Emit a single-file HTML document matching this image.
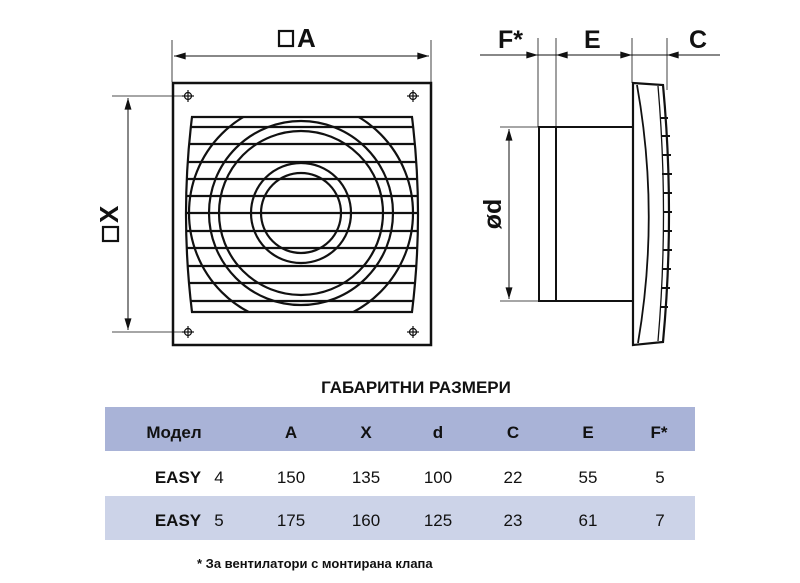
<!DOCTYPE html>
<html><head><meta charset="utf-8"><style>
html,body{margin:0;padding:0;background:#fff;}
svg{display:block;}
text{font-family:"Liberation Sans","DejaVu Sans",sans-serif;}
</style></head><body>
<svg width="800" height="583" viewBox="0 0 800 583" xmlns="http://www.w3.org/2000/svg">
<defs>
<marker id="ar" viewBox="0 0 10 6" refX="10" refY="3" markerWidth="18" markerHeight="7" markerUnits="userSpaceOnUse" orient="auto"><path d="M0,0 L10,3 L0,6 z" fill="#111"/></marker>
<clipPath id="gc"><path d="M192,117 Q180,214 192,312 L412,312 Q424,214 412,117 Z"/></clipPath>
</defs>
<g stroke="#111" fill="none">
<rect x="173" y="83" width="258" height="262" stroke-width="2.5"/>
<line x1="172" y1="40" x2="172" y2="82" stroke-width="0.8"/>
<line x1="431" y1="40" x2="431" y2="82" stroke-width="0.8"/>
<line x1="174" y1="56" x2="429" y2="56" stroke-width="1" marker-end="url(#ar)"/>
<line x1="429" y1="56" x2="174" y2="56" stroke-width="1" marker-end="url(#ar)"/>
<line x1="112" y1="96" x2="186" y2="96" stroke-width="0.8"/>
<line x1="112" y1="332" x2="186" y2="332" stroke-width="0.8"/>
<line x1="128" y1="98" x2="128" y2="330" stroke-width="1" marker-end="url(#ar)"/>
<line x1="128" y1="330" x2="128" y2="98" stroke-width="1" marker-end="url(#ar)"/>
<g stroke-width="1.2">
<circle cx="188" cy="96" r="3.5"/><line x1="188" y1="90" x2="188" y2="102"/><line x1="182" y1="96" x2="194" y2="96"/>
<circle cx="413" cy="96" r="3.5"/><line x1="413" y1="90" x2="413" y2="102"/><line x1="407" y1="96" x2="419" y2="96"/>
<circle cx="188" cy="332" r="3.5"/><line x1="188" y1="326" x2="188" y2="338"/><line x1="182" y1="332" x2="194" y2="332"/>
<circle cx="413" cy="332" r="3.5"/><line x1="413" y1="326" x2="413" y2="338"/><line x1="407" y1="332" x2="419" y2="332"/>
</g>
<path d="M192,117 Q180,214 192,312 L412,312 Q424,214 412,117 Z" stroke-width="2.2"/>
<g clip-path="url(#gc)" stroke-width="2.2">
<circle cx="301" cy="213" r="112"/>
<circle cx="301" cy="213" r="92"/>
<circle cx="301" cy="213" r="82"/>
<circle cx="301" cy="213" r="50"/>
<circle cx="301" cy="213" r="40"/>
<line x1="170" y1="127" x2="430" y2="127"/>
<line x1="170" y1="144" x2="430" y2="144"/>
<line x1="170" y1="162" x2="430" y2="162"/>
<line x1="170" y1="179" x2="430" y2="179"/>
<line x1="170" y1="196" x2="430" y2="196"/>
<line x1="170" y1="213" x2="430" y2="213"/>
<line x1="170" y1="231" x2="430" y2="231"/>
<line x1="170" y1="248" x2="430" y2="248"/>
<line x1="170" y1="266" x2="430" y2="266"/>
<line x1="170" y1="283" x2="430" y2="283"/>
<line x1="170" y1="301" x2="430" y2="301"/>
</g>
<line x1="480" y1="55" x2="720" y2="55" stroke-width="1"/>
<line x1="538" y1="38" x2="538" y2="127" stroke-width="0.8"/>
<line x1="556" y1="38" x2="556" y2="127" stroke-width="0.8"/>
<line x1="632" y1="38" x2="632" y2="83" stroke-width="0.8"/>
<line x1="667" y1="38" x2="667" y2="90" stroke-width="0.8"/>
<line x1="515" y1="55" x2="538" y2="55" stroke-width="1" marker-end="url(#ar)"/>
<line x1="579" y1="55" x2="556" y2="55" stroke-width="1" marker-end="url(#ar)"/>
<line x1="610" y1="55" x2="632" y2="55" stroke-width="1" marker-end="url(#ar)"/>
<line x1="690" y1="55" x2="667" y2="55" stroke-width="1" marker-end="url(#ar)"/>
<line x1="500" y1="127" x2="538" y2="127" stroke-width="0.8"/>
<line x1="500" y1="301" x2="538" y2="301" stroke-width="0.8"/>
<line x1="509" y1="129" x2="509" y2="299" stroke-width="1" marker-end="url(#ar)"/>
<line x1="509" y1="299" x2="509" y2="129" stroke-width="1" marker-end="url(#ar)"/>
<rect x="539" y="127" width="94" height="174" stroke-width="2"/>
<line x1="556" y1="127" x2="556" y2="301" stroke-width="2"/>
<path d="M633,83 L663,85 Q675,214 663,342 L633,345 Z" stroke-width="2.2" fill="#fff"/>
<path d="M637,85 Q660,214 638,343" stroke-width="1.8"/>
<path d="M658,86 Q669,214 658,341" stroke-width="1.3"/>
<g stroke-width="2">
<line x1="660" y1="118" x2="668" y2="118"/><line x1="661" y1="136" x2="670" y2="136"/>
<line x1="662" y1="155" x2="671" y2="155"/><line x1="662" y1="174" x2="672" y2="174"/>
<line x1="663" y1="193" x2="672" y2="193"/><line x1="663" y1="212" x2="672" y2="212"/>
<line x1="663" y1="231" x2="672" y2="231"/><line x1="663" y1="250" x2="672" y2="250"/>
<line x1="662" y1="269" x2="671" y2="269"/><line x1="662" y1="288" x2="670" y2="288"/>
<line x1="661" y1="307" x2="668" y2="307"/>
</g>
</g>
<g fill="#111" font-weight="bold">
<rect x="279" y="31" width="14" height="15" fill="none" stroke="#111" stroke-width="2.2"/>
<text x="297" y="47" font-size="26">A</text>
<g transform="translate(117,215) rotate(-90)">
<rect x="-26" y="-14" width="14" height="15" fill="none" stroke="#111" stroke-width="2.2"/>
<text x="-8" y="1" font-size="26">X</text>
</g>
<text x="498" y="48" font-size="25">F*</text>
<text x="584" y="48" font-size="25">E</text>
<text x="689" y="48" font-size="25">C</text>
<text transform="translate(501,214) rotate(-90)" font-size="25" text-anchor="middle">ød</text>
</g>
<text x="416" y="393" font-size="17" font-weight="bold" text-anchor="middle" fill="#111">ГАБАРИТНИ РАЗМЕРИ</text>
<rect x="105" y="407" width="590" height="44" fill="#a9b3d7"/>
<rect x="105" y="496" width="590" height="44" fill="#ccd3e8"/>
<g font-size="17" fill="#111" text-anchor="middle">
<g font-weight="bold">
<text x="174" y="438">Модел</text>
<text x="291" y="438">A</text><text x="366" y="438">X</text><text x="438" y="438">d</text>
<text x="513" y="438">C</text><text x="588" y="438">E</text><text x="659" y="438">F*</text>
<text x="178" y="483">EASY</text><text x="178" y="526">EASY</text>
</g>
<text x="219" y="483">4</text><text x="219" y="526">5</text>
<text x="291" y="483">150</text><text x="366" y="483">135</text><text x="438" y="483">100</text>
<text x="513" y="483">22</text><text x="588" y="483">55</text><text x="660" y="483">5</text>
<text x="291" y="526">175</text><text x="366" y="526">160</text><text x="438" y="526">125</text>
<text x="513" y="526">23</text><text x="588" y="526">61</text><text x="660" y="526">7</text>
</g>
<text x="197" y="568" font-size="13" font-weight="bold" fill="#111">* За вентилатори с монтирана клапа</text>
</svg>
</body></html>
